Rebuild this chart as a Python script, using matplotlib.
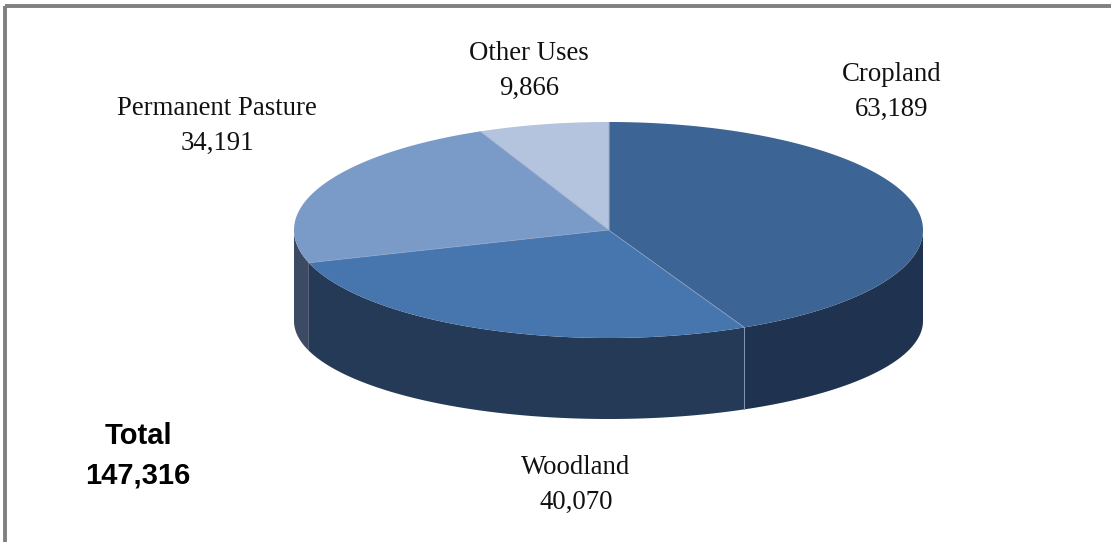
import numpy as np
import matplotlib
matplotlib.use('Agg')
import matplotlib.pyplot as plt
from matplotlib.patches import Polygon, Rectangle

categories = ['Cropland', 'Woodland', 'Permanent Pasture', 'Other Uses']
values = [63189, 40070, 34191, 9866]
value_labels = ['63,189', '40,070', '34,191', '9,866']
total_label = '147,316'

top_colors = ['#3C6494', '#4776AF', '#7A9BC8', '#B4C3DE']
side_colors = ['#1F3350', '#253A57', '#3D4A63', '#5A6B88']

# pie geometry in pixels
cx, cy = 608.5, 230
rx, ry = 314.5, 108
depth, ry_bot = 91, 98


def top_xy(t):
    t = np.radians(t)
    return cx + rx * np.cos(t), cy - ry * np.sin(t)


def bot_xy(t):
    t = np.radians(t)
    return cx + rx * np.cos(t), cy + depth - ry_bot * np.sin(t)


def main():
    fig = plt.figure(figsize=(11.11, 5.42), dpi=100)
    ax = fig.add_axes([0, 0, 1, 1])
    ax.set_xlim(0, 1111)
    ax.set_ylim(542, 0)
    ax.axis('off')

    # frame, only top and left edges visible
    ax.add_patch(Rectangle((5, 6), 1300, 700, fill=False, edgecolor='#808080', linewidth=2.8))

    vals = np.array(values, dtype=float)
    bounds = 90 - 360 * np.concatenate([[0], np.cumsum(vals)]) / vals.sum()

    # side walls (front half only: angles between -180 and 0)
    for i in range(len(values)):
        hi, lo = bounds[i], bounds[i + 1]
        hi2, lo2 = min(hi, 0), max(lo, -180)
        if hi2 <= lo2:
            continue
        ts = np.linspace(hi2, lo2, 200)
        tx, tyy = top_xy(ts)
        bx, byy = bot_xy(ts[::-1])
        pts = np.column_stack([np.concatenate([tx, bx]), np.concatenate([tyy, byy])])
        ax.add_patch(Polygon(pts, closed=True, facecolor=side_colors[i], edgecolor='none'))

    # light seam on the side wall between cropland and woodland
    b = bounds[1]
    x0, y0 = top_xy(b)
    x1, y1 = bot_xy(b)
    ax.plot([x0, x1], [y0, y1], color='#7F97BA', lw=0.7)

    # top faces
    for i in range(len(values)):
        ts = np.linspace(bounds[i], bounds[i + 1], 300)
        tx, tyy = top_xy(ts)
        pts = np.column_stack([np.concatenate([[cx], tx]), np.concatenate([[cy], tyy])])
        ax.add_patch(Polygon(pts, closed=True, facecolor=top_colors[i], edgecolor='none'))

    for b in bounds[:-1]:
        x0, y0 = top_xy(b)
        ax.plot([cx, x0], [cy, y0], color='#8EA5C6', lw=0.6, alpha=0.8)

    # labels
    label_pos = [(892, 92), (576, 485), (217, 126), (529, 71)]
    for i, (lx, ly) in enumerate(label_pos):
        ax.text(lx, ly, categories[i] + '\n' + value_labels[i], ha='center', va='center',
                fontsize=19.3, family='Liberation Serif', linespacing=1.55, color='#111111')

    ax.text(138, 456, 'Total\n' + total_label, ha='center', va='center', fontsize=21,
            family='Liberation Sans', fontweight='bold', linespacing=1.5)

    fig.savefig('out.png', dpi=100)


if __name__ == "__main__":
    main()
